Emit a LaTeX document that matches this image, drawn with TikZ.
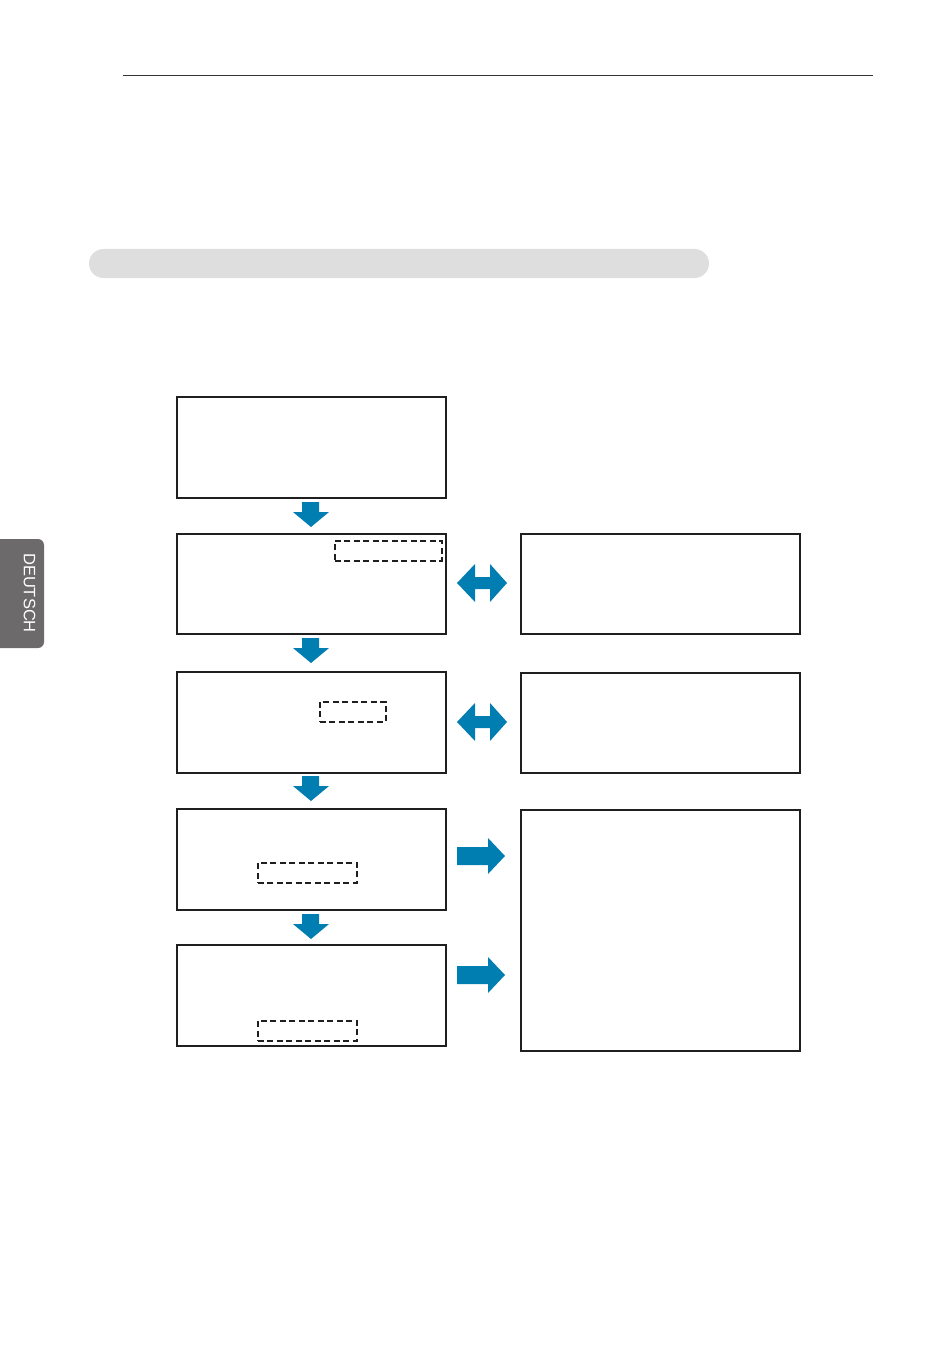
\documentclass[tikz,border=0pt]{standalone}
\usepackage{fontspec}
\setsansfont{Liberation Sans}
\definecolor{arrowblue}{RGB}{0,126,178}
\definecolor{barcol}{RGB}{222,222,222}
\definecolor{tabcol}{RGB}{108,106,106}
\begin{document}
\begin{tikzpicture}[x=1pt,y=-1pt,
  flowbox/.style={draw=black!88,line width=2pt},
  dashbox/.style={draw=black!88,line width=1.6pt,dash pattern=on 6pt off 3.5pt},
  arrowfill/.style={fill=arrowblue,draw=none}]
\useasboundingbox (0,0) rectangle (950,1348);
% header line
\draw[line width=0.9pt,black!80] (123,75) -- (873,75);
% gray bar
\fill[barcol,rounded corners=14.5pt] (89,249) rectangle (709,278);
% side tab
\fill[tabcol] (0,539) -- (38,539) arc[start angle=90,end angle=0,x radius=6,y radius=-6] -- (44,642) arc[start angle=0,end angle=-90,x radius=6,y radius=-6] -- (0,648) -- cycle;
\node[rotate=-90,text=white,font=\sffamily\fontsize{16.5}{18}\selectfont,inner sep=0] (tab) at (29.5,593) {DEUTSCH};
% left boxes
\node[flowbox,minimum width=269,minimum height=101,anchor=north west,inner sep=0] (b1) at (176,396) {};
\node[flowbox,minimum width=269,minimum height=100,anchor=north west,inner sep=0] (b2) at (176,533) {};
\node[flowbox,minimum width=269,minimum height=101,anchor=north west,inner sep=0] (b3) at (176,671) {};
\node[flowbox,minimum width=269,minimum height=101,anchor=north west,inner sep=0] (b4) at (176,808) {};
\node[flowbox,minimum width=269,minimum height=101,anchor=north west,inner sep=0] (b5) at (176,944) {};
% right boxes
\node[flowbox,minimum width=279,minimum height=100,anchor=north west,inner sep=0] (r1) at (520,533) {};
\node[flowbox,minimum width=279,minimum height=100,anchor=north west,inner sep=0] (r2) at (520,672) {};
\node[flowbox,minimum width=279,minimum height=241,anchor=north west,inner sep=0] (r3) at (520,809) {};
% dashed boxes
\node[dashbox,minimum width=107,minimum height=20,anchor=north west,inner sep=0] (d2) at (334,540) {};
\node[dashbox,minimum width=66,minimum height=20,anchor=north west,inner sep=0] (d3) at (319,701) {};
\node[dashbox,minimum width=99,minimum height=20,anchor=north west,inner sep=0] (d4) at (257,862) {};
\node[dashbox,minimum width=99,minimum height=20,anchor=north west,inner sep=0] (d5) at (257,1020) {};
% down arrows
\foreach \t in {502,638,776,914}{
  \fill[arrowfill] (302,\t) -- (319,\t) -- (319,\t+10) -- (329,\t+10) -- (311,\t+25) -- (293,\t+10) -- (302,\t+10) -- cycle;
}
% double arrows
\foreach \c in {583,722}{
  \fill[arrowfill] (457,\c) -- (475,\c-19) -- (475,\c-6) -- (490,\c-6) -- (490,\c-19) -- (507,\c) -- (490,\c+19) -- (490,\c+6) -- (475,\c+6) -- (475,\c+19) -- cycle;
}
% right arrows
\foreach \c in {856,975}{
  \fill[arrowfill] (457,\c-9) -- (488,\c-9) -- (488,\c-18) -- (505,\c) -- (488,\c+18) -- (488,\c+9) -- (457,\c+9) -- cycle;
}
\end{tikzpicture}
\end{document}
